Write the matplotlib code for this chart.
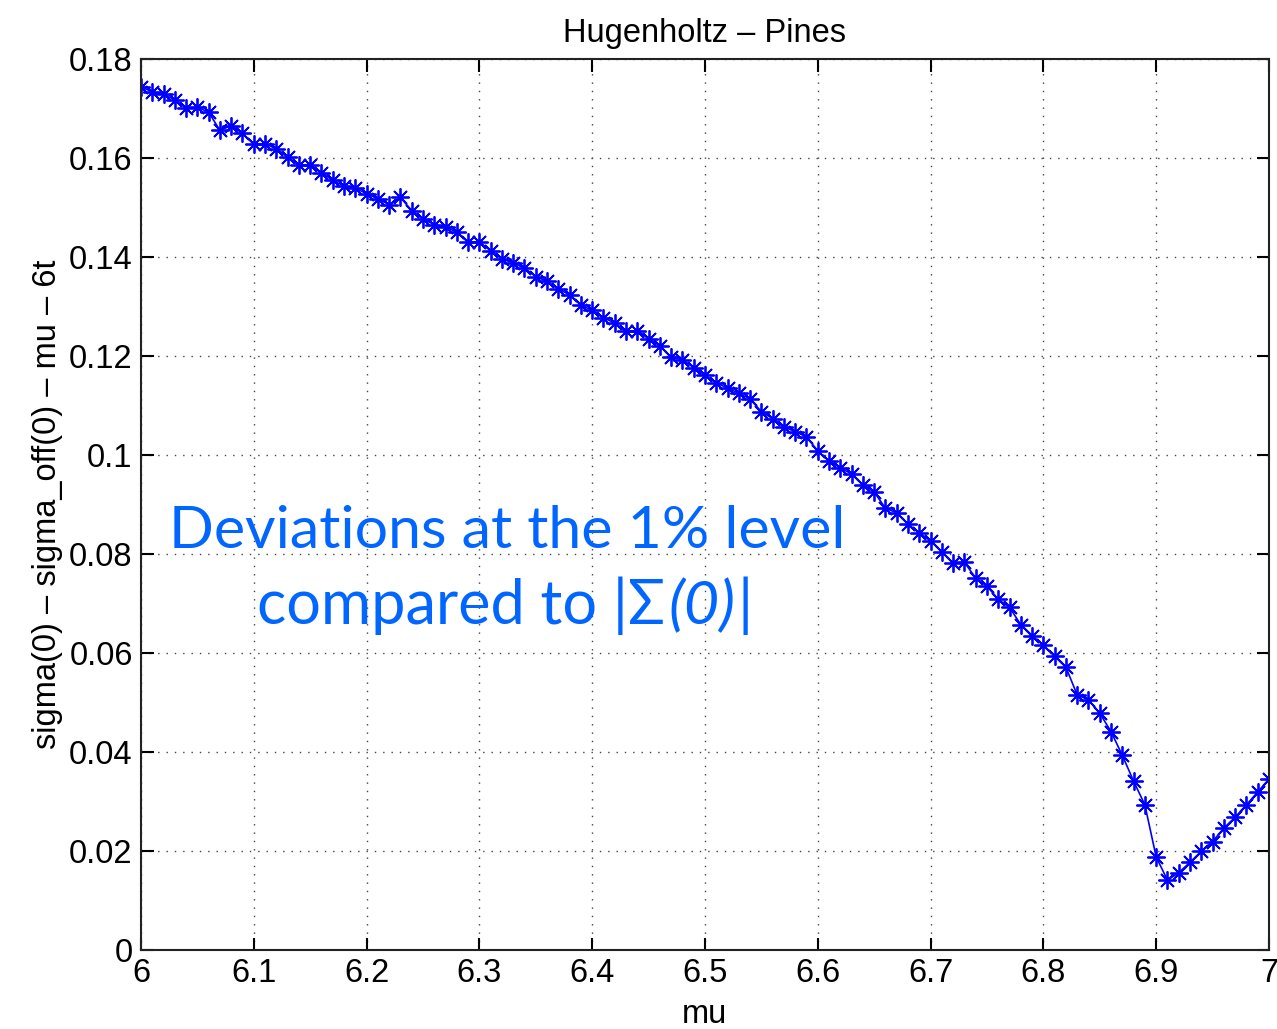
import numpy as np
import matplotlib
matplotlib.use("Agg")
import matplotlib.pyplot as plt
from matplotlib.offsetbox import TextArea, HPacker, AnnotationBbox

# mu values 6.00 ... 7.00 in steps of 0.01
mu = np.round(np.arange(6.0, 7.0001, 0.01), 2)

# sigma(0) - sigma_off(0) - mu - 6t
dev = [
    0.1743, 0.1733, 0.1728, 0.1717, 0.1700, 0.1702, 0.1692, 0.1655, 0.1665, 0.1649,
    0.1627, 0.1628, 0.1618, 0.1601, 0.1585, 0.1586, 0.1570, 0.1554, 0.1543, 0.1539,
    0.1527, 0.1517, 0.1505, 0.1520, 0.1493, 0.1476, 0.1465, 0.1460, 0.1450, 0.1429,
    0.1430, 0.1412, 0.1396, 0.1387, 0.1377, 0.1360, 0.1350, 0.1335, 0.1323, 0.1302,
    0.1292, 0.1277, 0.1266, 0.1249, 0.1251, 0.1234, 0.1220, 0.1197, 0.1192, 0.1176,
    0.1161, 0.1145, 0.1135, 0.1124, 0.1113, 0.1087, 0.1073, 0.1056, 0.1047, 0.1036,
    0.1008, 0.0987, 0.0974, 0.0961, 0.0939, 0.0925, 0.0892, 0.0883, 0.0860, 0.0842,
    0.0826, 0.0804, 0.0781, 0.0783, 0.0751, 0.0735, 0.0708, 0.0692, 0.0657, 0.0635,
    0.0615, 0.0593, 0.0571, 0.0515, 0.0505, 0.0478, 0.0441, 0.0393, 0.0341, 0.0293,
    0.0188, 0.0141, 0.0156, 0.0177, 0.0199, 0.0219, 0.0246, 0.0268, 0.0293, 0.0319,
    0.0345,
]

xticks = [6, 6.1, 6.2, 6.3, 6.4, 6.5, 6.6, 6.7, 6.8, 6.9, 7]
xticklabels = ["6", "6.1", "6.2", "6.3", "6.4", "6.5", "6.6", "6.7", "6.8", "6.9", "7"]
yticks = [0, 0.02, 0.04, 0.06, 0.08, 0.1, 0.12, 0.14, 0.16, 0.18]
yticklabels = ["0", "0.02", "0.04", "0.06", "0.08", "0.1", "0.12", "0.14", "0.16", "0.18"]

plt.rcParams["font.family"] = ["Liberation Sans", "DejaVu Sans"]

fig = plt.figure(figsize=(12.77, 10.29), dpi=100)
ax = fig.add_axes([0.1104, 0.0768, 0.8833, 0.8662])

# matlab style asterisk markers
ax.plot(mu, dev, color="#0000ff", linewidth=1.2, marker=(8, 2, 0), markersize=13,
        markeredgewidth=1.3)

ax.set_xlim(6, 7)
ax.set_ylim(0, 0.18)
ax.set_xticks(xticks)
ax.set_xticklabels(xticklabels)
ax.set_yticks(yticks)
ax.set_yticklabels(yticklabels)
ax.tick_params(direction="in", length=9, width=1.5, labelsize=23.5,
               top=True, right=True, pad=6)
for s in ax.spines.values():
    s.set_linewidth(1.5)
    s.set_color("#222222")

ax.grid(True, color="#444444", linestyle=(0, (1, 5)), linewidth=1.0)

ax.set_title("Hugenholtz \u2013 Pines", fontsize=23.5, pad=12)
ax.set_xlabel("mu", fontsize=23.5, labelpad=7)
ax.set_ylabel("sigma(0) \u2013 sigma_off(0) \u2013 mu \u2013 6t", fontsize=23.5, labelpad=4)

# blue annotation
blue = "#0066ff"
ax.text(6.3249, 0.0812, "Deviations at the 1% level", color=blue,
        fontsize=42.5, family="Lato", ha="center", va="baseline")

parts = [
    TextArea("compared to |\u03a3", textprops=dict(color=blue, fontsize=44, family="Lato")),
    TextArea("(0)", textprops=dict(color=blue, fontsize=44, family="Lato", style="italic")),
    TextArea("|", textprops=dict(color=blue, fontsize=44, family="Lato")),
]
line2 = HPacker(children=parts, align="baseline", pad=0, sep=2)
ab = AnnotationBbox(line2, (6.3227, 0.0695), xycoords="data", frameon=False,
                    box_alignment=(0.5, 0.5), pad=0)
ax.add_artist(ab)

plt.savefig("out.png", dpi=100)
